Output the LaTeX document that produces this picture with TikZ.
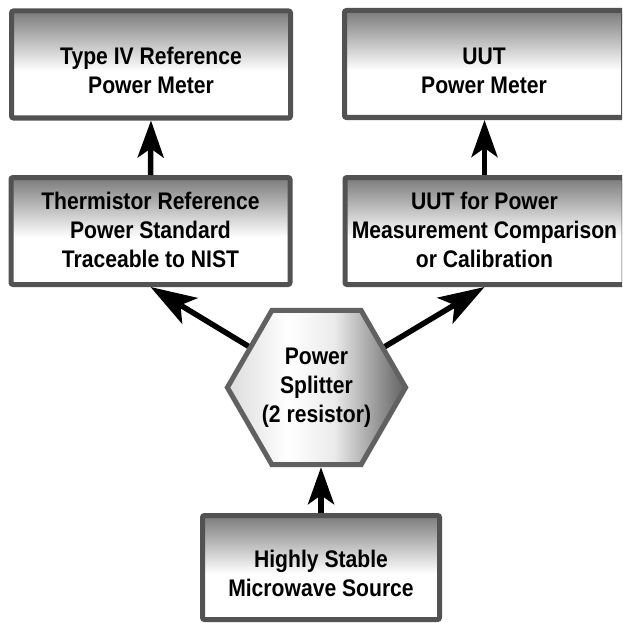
\documentclass[tikz,border=0pt]{standalone}
\usepackage{fontspec}
\setmainfont{Liberation Sans}[FakeStretch=0.88]
\usetikzlibrary{arrows.meta,shapes.geometric}
\pgfdeclareverticalshading{boxshade}{100bp}{color(0bp)=(white); color(25bp)=(white); color(47bp)=(white); color(75bp)=(black!52); color(100bp)=(black!52)}
\pgfdeclarehorizontalshading{splitshade}{100bp}{color(0bp)=(black!14); color(25bp)=(black!14); color(42bp)=(white); color(55bp)=(black!8); color(75bp)=(black!62); color(100bp)=(black!62)}
\newcommand{\lowtext}[2][9pt]{\raisebox{-#1}[\height][\depth]{\begin{tabular}{@{}c@{}}#2\end{tabular}}}

\begin{document}
\begin{tikzpicture}[x=1pt,y=-1pt,
    every node/.style={inner sep=0pt, font=\fontsize{24}{29}\selectfont\bfseries, align=center},
    block/.style={draw=black!68, line width=5pt, rounded corners=2pt,
        minimum width=279pt, minimum height=107pt, shading=boxshade},
    splitter/.style={draw=black!62, line width=5pt, regular polygon, regular polygon sides=6,
        minimum size=168pt, shading=splitshade},
    flow/.style={-{Stealth[length=37pt,width=26pt,inset=9pt]}, line width=5.5pt},
    slant/.style={-{Stealth[length=46pt,width=30pt,inset=11pt]}, line width=5.5pt}]
    \useasboundingbox (0,0) rectangle (622,623);
    \clip (0,0) rectangle (622,623);
    % top row
    \node[block] (refmeter) at (151,64.5) {\lowtext{Type IV Reference\\Power Meter}};
    \node[block] (uutmeter) at (484,64) {\lowtext{UUT\\Power Meter}};
    % middle row
    \node[block] (thermistor) at (150.5,231) {\lowtext[2pt]{Thermistor Reference\\Power Standard\\Traceable to NIST}};
    \node[block] (uut) at (484.5,231) {\lowtext[2pt]{UUT for Power\\Measurement Comparison\\or Calibration}};
    % splitter and source
    \node[splitter] (splitter) at (316.5,387.5) {Power\\Splitter\\(2 resistor)};
    \node[block, minimum width=237pt, minimum height=104pt] (source) at (321,567.5) {\lowtext{Highly Stable\\Microwave Source}};
    % connections
    \draw[flow] (thermistor.north) -- (refmeter.south);
    \draw[flow] (uut.north) -- (uut.north |- uutmeter.south);
    \draw[flow] (source.north) -- (source.north |- splitter.south);
    \draw[slant] (splitter) -- (thermistor.south);
    \draw[slant] (splitter) -- (uut.south);
\end{tikzpicture}
\end{document}
